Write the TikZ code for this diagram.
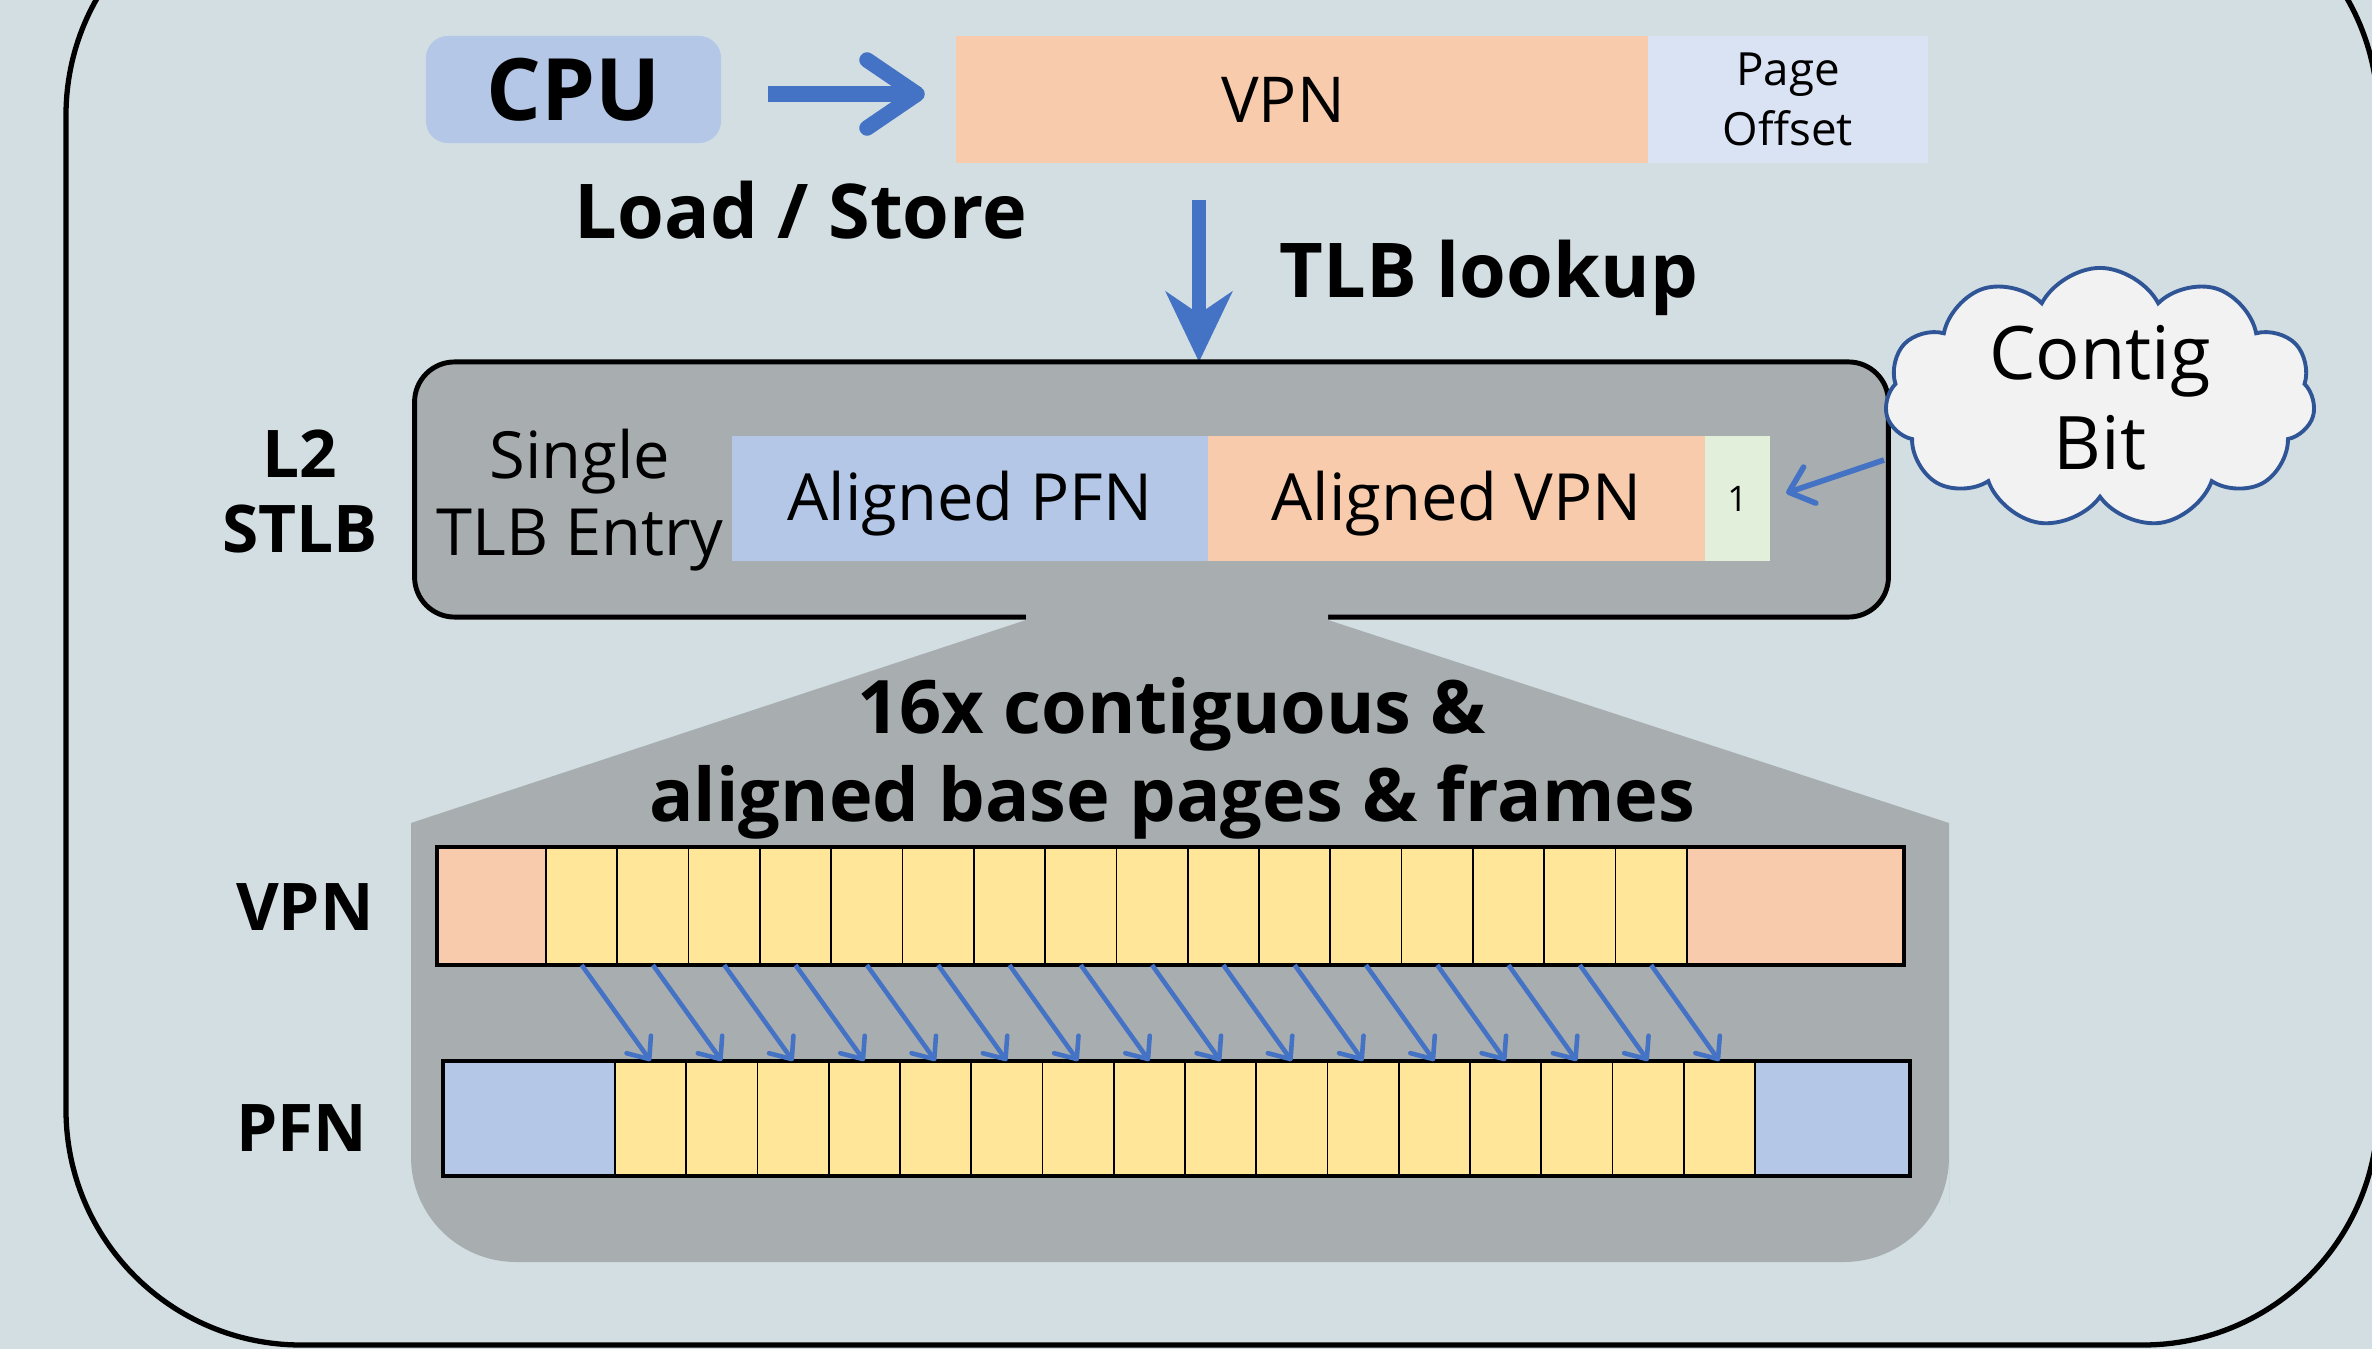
\documentclass[tikz,border=0pt]{standalone}
\usepackage{fontspec}
\setmainfont{Open Sans}
\usetikzlibrary{arrows.meta,shapes.symbols}
\definecolor{bgc}{HTML}{D2DEE2}
\definecolor{grayc}{HTML}{A8ADB0}
\definecolor{bluec}{HTML}{B4C7E7}
\definecolor{peachc}{HTML}{F8CBAD}
\definecolor{offc}{HTML}{DAE3F3}
\definecolor{bitc}{HTML}{E2EFDA}
\definecolor{yelc}{HTML}{FFE699}
\definecolor{arrc}{HTML}{4472C4}
\definecolor{cloudc}{HTML}{2F5597}
\definecolor{cloudf}{HTML}{F2F2F2}
\tikzset{%
  fld/.style={inner sep=0,outer sep=0,minimum height=1.25cm},
  cell/.style={draw,line width=0.5pt,fill=yelc,inner sep=0,outer sep=0,minimum width=0.713cm,minimum height=1.17cm},
  bold/.style={inner sep=0,align=center,font=\bfseries\fontsize{21.5}{25}\selectfont},
  plain/.style={inner sep=0,align=center,font=\fontsize{18.5}{21.8}\selectfont},
  bigbarb/.style={draw=arrc,line width=4.4pt,-{Straight Barb[round,length=0.5cm,width=0.68cm]}},
  bigstealth/.style={draw=arrc,line width=4.2pt,-{Stealth[length=0.7cm,width=0.66cm,inset=0.22cm]}},
  smallarr/.style={draw=arrc,line width=1.3pt,-{Straight Barb[round,length=0.18cm,width=0.3cm]}},
  cbarr/.style={draw=arrc,line width=1.6pt,-{Straight Barb[round,length=0.22cm,width=0.38cm]}},
  cbubble/.style={cloud,cloud puffs=11,cloud puff arc=125,cloud ignores aspect,draw=cloudc,fill=cloudf,line width=1.1pt,minimum width=4.3cm,minimum height=2.6cm,inner sep=0,align=center,font=\fontsize{21}{25.5}\selectfont}
}
\begin{document}
\begin{tikzpicture}[x=0.01cm,y=-0.01cm]
  \useasboundingbox (0,0) rectangle (2372,1349);
  \clip (0,0) rectangle (2372,1349);
  \fill[bgc] (0,0) rectangle (2372,1349);
  \draw[line width=1.5pt,rounded corners=2.35cm] (66,-120) rectangle (2378,1345);

  \path
    (573.5,89.5) node (cpu)[fld,fill=bluec,rounded corners=0.22cm,minimum width=2.95cm,minimum height=1.07cm,font=\bfseries\fontsize{24.5}{29}\selectfont]{CPU}
    (1302,99.5) node (va)[fld,fill=peachc,minimum width=6.92cm,minimum height=1.27cm,label={[xshift=-0.19cm,font=\fontsize{18}{22}\selectfont]center:VPN}]{}
    (1788,99.5) node (po)[fld,fill=offc,minimum width=2.8cm,minimum height=1.27cm,align=center,font=\fontsize{13}{17}\selectfont]{Page\\Offset};
  \node[bold,anchor=base] (ls) at (801,239) {Load / Store};
  \node[bold,anchor=base] (look) at (1489,298) {TLB lookup};
  \coordinate (tlbin) at (1199,362);
  \draw[bigbarb,shorten <=0.47cm,shorten >=0.31cm] ([yshift=-0.045cm]cpu.east) -- ([yshift=-0.045cm]cpu.east -| va.west);
  \draw[bigstealth,shorten <=0.37cm] (va.south -| tlbin) -- (tlbin);

  \node[draw,line width=1.4pt,fill=grayc,rounded corners=0.4cm,minimum width=14.73cm,minimum height=2.55cm] (stlb) at (1151.5,489.5) {};
  \fill[grayc] (1026,611) -- (1026,620) -- (411,823) -- (411,1100) [rounded corners=1.05cm] -- (411,1262) -- (1949,1262) -- (1949,1100) [sharp corners] -- (1949,823) -- (1328,620) -- (1328,611) -- cycle;

  \node[bold,font=\bfseries\fontsize{18.7}{21.6}\selectfont] (l2) at (300,491.5) {L2\\STLB};
  \node[plain] (single) at (580,500) {Single\\TLB Entry};
  \path
    (970,498.5) node (apfn)[fld,fill=bluec,minimum width=4.76cm,text height=17pt,text depth=4.5pt,font=\fontsize{18.5}{22}\selectfont]{Aligned PFN}
    (1456.5,498.5) node (avpn)[fld,fill=peachc,minimum width=4.97cm,text height=17pt,text depth=4.5pt,font=\fontsize{18.5}{22}\selectfont]{Aligned VPN}
    (1737.5,498.5) node (bit)[fld,fill=bitc,minimum width=0.65cm,font=\fontsize{10}{12}\selectfont]{1};
  \node[cbubble] (cb) at (2100,398) {Contig\\Bit};
  \coordinate (cbtail) at (1884,460);
  \draw[cbarr,shorten >=0.17cm] (cbtail) -- (bit.east);

  \node[bold,font=\bfseries\fontsize{21}{25}\selectfont] (fan) at (1172,758) {16x contiguous \&\\aligned base pages \& frames};

  \node[bold,anchor=base,font=\bfseries\fontsize{18.7}{22}\selectfont] (vlab) at (305,930) {VPN};
  \node[bold,anchor=base,font=\bfseries\fontsize{18.7}{22}\selectfont] (plab) at (302,1151) {PFN};

  \node[cell,fill=peachc,minimum width=1.09cm,minimum height=1.18cm] (vl) at (491.5,906) {};
  \node[cell,fill=peachc,minimum width=2.17cm,minimum height=1.18cm] (vr) at (1795.5,906) {};
  \node[cell,fill=bluec,minimum width=1.72cm,minimum height=1.15cm] (pl) at (529,1118.5) {};
  \node[cell,fill=bluec,minimum width=1.55cm,minimum height=1.15cm] (pr) at (1832.5,1118.5) {};
  \foreach \i in {0,...,15}{
    \node[cell,minimum height=1.18cm] (v\i) at ({581.65+71.3*\i},906) {};
    \node[cell,minimum height=1.15cm] (p\i) at ({650.6+71.25*\i},1118.5) {};
  }
  \draw[line width=1pt] (vl.north west) rectangle (vr.south east);
  \draw[line width=1pt] (pl.north west) rectangle (pr.south east);
  \foreach \i in {0,...,15}
    \draw[smallarr] (v\i.south) -- (p\i.north);
\end{tikzpicture}
\end{document}
